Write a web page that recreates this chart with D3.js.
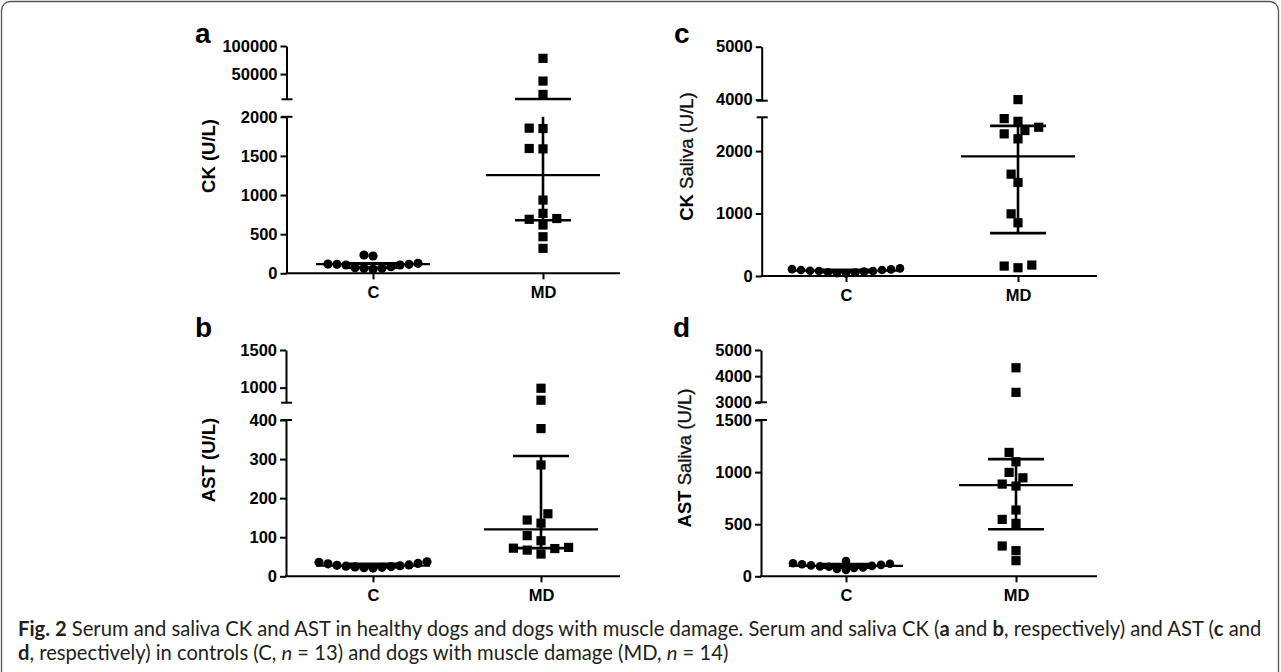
<!DOCTYPE html>
<html>
<head>
<meta charset="utf-8">
<script src="https://cdn.jsdelivr.net/npm/d3@7"></script>
<style>
  body { margin: 0; background: #fff; }
  svg text { font-family: "Liberation Sans", Arial, sans-serif; }
</style>
</head>
<body>
<svg id="fig" width="1281" height="672"></svg>
<script>
// --> DATA

var categories = ["C", "MD"];

// a: serum CK (U/L)
var ckSerumC = [128, 115, 106, 85, 64, 51, 234, 64, 72, 106, 115, 118, 221];
var ckSerumMD = [78000, 37500, 13700, 1850, 1855, 1590, 1595, 936, 766, 700, 690, 617, 467, 319];
var ckSerumMedian = [118, 1255];
var ckSerumQ1 = [72, 677];
var ckSerumQ3 = [128, 5500];
var ckSerumTicksLow = [0, 500, 1000, 1500, 2000];
var ckSerumTicksHigh = [50000, 100000];
var ckSerumBreak = [2000, 5000, 100000];   // top of lower part, bottom and top of upper part

// b: serum AST (U/L)
var astSerumC = [36, 32, 29, 27, 25, 23, 21, 22, 24, 26, 28, 33, 37];
var astSerumMD = [992, 833, 378, 285, 160, 144, 136, 104, 91, 74, 71, 67, 72, 57];
var astSerumMedian = [27, 120];
var astSerumQ1 = [23, 72];
var astSerumQ3 = [32, 308];
var astSerumTicksLow = [0, 100, 200, 300, 400];
var astSerumTicksHigh = [1000, 1500];
var astSerumBreak = [400, 800, 1500];

// c: saliva CK (U/L)
var ckSalivaC = [122, 106, 95, 85, 79, 60, 43, 40, 55, 70, 80, 95, 110];
var ckSalivaMD = [4000, 2519, 2476, 2381, 2328, 2275, 2195, 1630, 1497, 995, 852, 175, 159, 132];
var ckSalivaMedian = [85, 1916];
var ckSalivaQ1 = [62, 687];
var ckSalivaQ3 = [100, 2402];
var ckSalivaTicksLow = [0, 1000, 2000];
var ckSalivaTicksHigh = [4000, 5000];
var ckSalivaBreak = [2540, 3980, 5000];

// d: saliva AST (U/L)
var astSalivaC = [147, 120, 110, 100, 92, 85, 70, 62, 80, 95, 105, 115, 125];
var astSalivaMD = [4320, 3380, 1189, 1099, 997, 945, 885, 866, 636, 546, 508, 291, 246, 150];
var astSalivaMedian = [100, 875];
var astSalivaQ1 = [82, 451];
var astSalivaQ3 = [117, 1125];
var astSalivaTicksLow = [0, 500, 1000, 1500];
var astSalivaTicksHigh = [3000, 4000, 5000];
var astSalivaBreak = [1500, 3000, 5000];

var captionLine1 = [
    {t: "Fig. 2", b: 1}, {t: " Serum and saliva CK and AST in healthy dogs and dogs with muscle damage. Serum and saliva CK ("},
    {t: "a", b: 1}, {t: " and "}, {t: "b", b: 1}, {t: ", respectively) and AST ("}, {t: "c", b: 1}, {t: " and"}
];
var captionLine2 = [
    {t: "d", b: 1}, {t: ", respectively) in controls (C, "}, {t: "n", i: 1}, {t: " = 13) and dogs with muscle damage (MD, "},
    {t: "n", i: 1}, {t: " = 14)"}
];

// --> LAYOUT

var panels = [
    {letter: "a", title: ["CK (U/L)", ""], c: ckSerumC, md: ckSerumMD, med: ckSerumMedian, q1: ckSerumQ1, q3: ckSerumQ3,
        ticksLow: ckSerumTicksLow, ticksHigh: ckSerumTicksHigh, brk: ckSerumBreak,
        x0: 286.5, xC: 373, xMD: 543, xEnd: 620, yBase: 273.3, yLowTop: 116.8, yUpBot: 99.3, yUpTop: 46,
        r: 4.6, letterAt: [195, 43], titleAt: [215, 156]},
    {letter: "b", title: ["AST (U/L)", ""], c: astSerumC, md: astSerumMD, med: astSerumMedian, q1: astSerumQ1, q3: astSerumQ3,
        ticksLow: astSerumTicksLow, ticksHigh: astSerumTicksHigh, brk: astSerumBreak,
        x0: 286, xC: 373, xMD: 541, xEnd: 620, yBase: 576.3, yLowTop: 420, yUpBot: 402.7, yUpTop: 350,
        r: 4.6, letterAt: [195, 337], titleAt: [215, 460]},
    {letter: "c", title: ["CK", " Saliva (U/L)"], c: ckSalivaC, md: ckSalivaMD, med: ckSalivaMedian, q1: ckSalivaQ1, q3: ckSalivaQ3,
        ticksLow: ckSalivaTicksLow, ticksHigh: ckSalivaTicksHigh, brk: ckSalivaBreak,
        x0: 761.7, xC: 846, xMD: 1018, xEnd: 1097, yBase: 276, yLowTop: 117.3, yUpBot: 100.7, yUpTop: 46.7,
        r: 4.3, letterAt: [674, 42.5], titleAt: [693, 156.5]},
    {letter: "d", title: ["AST", " Saliva (U/L)"], c: astSalivaC, md: astSalivaMD, med: astSalivaMedian, q1: astSalivaQ1, q3: astSalivaQ3,
        ticksLow: astSalivaTicksLow, ticksHigh: astSalivaTicksHigh, brk: astSalivaBreak,
        x0: 761, xC: 846, xMD: 1016, xEnd: 1097, yBase: 576.3, yLowTop: 420, yUpBot: 402.3, yUpTop: 350,
        r: 4.3, letterAt: [673, 337], titleAt: [691, 458]}
];

var svg = d3.select("#fig");

// frame round the figure
svg.append("rect")
    .attr("x", 1.5).attr("y", 1.5).attr("width", 1277).attr("height", 720).attr("rx", 9)
    .attr("fill", "none").attr("stroke", "#555").attr("stroke-width", 1.3);

// simple column scatter: place points bottom-up, pushing out sideways on overlap
function swarm(vals, yFn, cx, minDist, step) {
    var order = vals.map(function(v, i) { return i; })
        .sort(function(a, b) { return vals[a] - vals[b]; });
    var placed = [], out = [];
    order.forEach(function(i) {
        var yy = yFn(vals[i]);
        for (var k = 0; k < 200; k++) {
            var off = k === 0 ? 0 : (k % 2 ? -1 : 1) * Math.ceil(k / 2) * step;
            var xx = cx + off;
            var hit = placed.some(function(p) { return Math.hypot(p.x - xx, p.y - yy) < minDist; });
            if (!hit) { placed.push({x: xx, y: yy}); out.push({x: xx, y: yy, v: vals[i]}); break; }
        }
    });
    return out;
}

function styleAxis(ax) {
    ax.attr("font-family", "Liberation Sans, Arial, sans-serif")
        .attr("font-size", 16.5).attr("font-weight", "bold");
    ax.selectAll("path, line").attr("stroke", "#000").attr("stroke-width", 2);
    ax.selectAll("text").attr("fill", "#000");
}

var fmt = d3.format("d");

panels.forEach(function(p) {
    var g = svg.append("g");

    var yLow = d3.scaleLinear().domain([0, p.brk[0]]).range([p.yBase, p.yLowTop]);
    var yUp = d3.scaleLinear().domain([p.brk[1], p.brk[2]]).range([p.yUpBot, p.yUpTop]);
    var y = function(v) { return v <= p.brk[0] ? yLow(v) : yUp(v); };
    var x = d3.scalePoint().domain(categories).range([p.xC, p.xMD]);

    // y axis, two parts
    var axL = g.append("g").attr("transform", "translate(" + p.x0 + ",0)")
        .call(d3.axisLeft(yLow).tickValues(p.ticksLow).tickFormat(fmt)
            .tickSize(6).tickSizeOuter(0).tickPadding(3));
    var axU = g.append("g").attr("transform", "translate(" + p.x0 + ",0)")
        .call(d3.axisLeft(yUp).tickValues(p.ticksHigh).tickFormat(fmt)
            .tickSize(6).tickSizeOuter(0).tickPadding(3));
    styleAxis(axL);
    styleAxis(axU);

    // break caps
    [p.yLowTop, p.yUpBot].forEach(function(yy) {
        g.append("line")
            .attr("x1", p.x0 - 5).attr("x2", p.x0 + 6).attr("y1", yy).attr("y2", yy)
            .attr("stroke", "#000").attr("stroke-width", 2);
    });

    // x axis
    g.append("line")
        .attr("x1", p.x0 - 1).attr("x2", p.xEnd).attr("y1", p.yBase).attr("y2", p.yBase)
        .attr("stroke", "#000").attr("stroke-width", 2);
    var axB = g.append("g").attr("transform", "translate(0," + p.yBase + ")")
        .call(d3.axisBottom(x).tickSize(6).tickSizeOuter(0).tickPadding(7));
    axB.select(".domain").remove();
    styleAxis(axB);

    // points
    var dotsC = swarm(p.c, y, x("C"), 2 * p.r * 0.95, 1);
    g.selectAll("circle.pt").data(dotsC).enter().append("circle")
        .attr("class", "pt")
        .attr("cx", function(d) { return d.x; })
        .attr("cy", function(d) { return d.y; })
        .attr("r", p.r).attr("fill", "#000");

    var dotsMD = swarm(p.md, y, x("MD"), 9.8, 6.9);
    g.selectAll("rect.pt").data(dotsMD).enter().append("rect")
        .attr("class", "pt")
        .attr("x", function(d) { return d.x - 4.6; })
        .attr("y", function(d) { return d.y - 4.6; })
        .attr("width", 9.2).attr("height", 9.2).attr("fill", "#000");

    // median and interquartile range
    categories.forEach(function(cat, i) {
        var cx = x(cat);
        g.append("line")
            .attr("x1", cx - 57).attr("x2", cx + 57)
            .attr("y1", y(p.med[i])).attr("y2", y(p.med[i]))
            .attr("stroke", "#000").attr("stroke-width", 2.2);

        var segs = [];
        if (p.q1[i] < p.brk[0]) segs.push([p.q1[i], Math.min(p.q3[i], p.brk[0])]);
        if (p.q3[i] > p.brk[1]) segs.push([Math.max(p.q1[i], p.brk[1]), p.q3[i]]);
        segs.forEach(function(s) {
            g.append("line")
                .attr("x1", cx).attr("x2", cx).attr("y1", y(s[0])).attr("y2", y(s[1]))
                .attr("stroke", "#000").attr("stroke-width", 2.6);
        });
        [p.q1[i], p.q3[i]].forEach(function(v) {
            g.append("line")
                .attr("x1", cx - 28).attr("x2", cx + 28).attr("y1", y(v)).attr("y2", y(v))
                .attr("stroke", "#000").attr("stroke-width", 2.6);
        });
    });

    // axis title
    var t = g.append("text")
        .attr("transform", "translate(" + p.titleAt[0] + "," + p.titleAt[1] + ") rotate(-90)")
        .attr("text-anchor", "middle").attr("font-size", 18.5).attr("fill", "#000");
    t.append("tspan").attr("font-weight", "bold").text(p.title[0]);
    if (p.title[1]) t.append("tspan").attr("fill", "#111").attr("stroke", "#111").attr("stroke-width", 0.35).text(p.title[1]);

    // panel letter
    g.append("text")
        .attr("x", p.letterAt[0]).attr("y", p.letterAt[1])
        .attr("font-size", 28).attr("font-weight", "bold").attr("fill", "#000")
        .text(p.letter);
});

// caption
function captionLine(parts, yy) {
    var t = svg.append("text")
        .attr("x", 18).attr("y", yy)
        .style("font-family", "Lato, 'Open Sans', sans-serif").attr("font-size", 16).attr("fill", "#231f20");
    parts.forEach(function(d) {
        t.append("tspan")
            .attr("font-weight", d.b ? "bold" : null)
            .attr("font-style", d.i ? "italic" : null)
            .text(d.t);
    });
    return t;
}
var cap1 = captionLine(captionLine1, 636);
var cap2 = captionLine(captionLine2, 660);
var fs = 16 * 1244 / cap1.node().getComputedTextLength();
cap1.attr("font-size", fs);
cap2.attr("font-size", fs);
</script>
</body>
</html>
